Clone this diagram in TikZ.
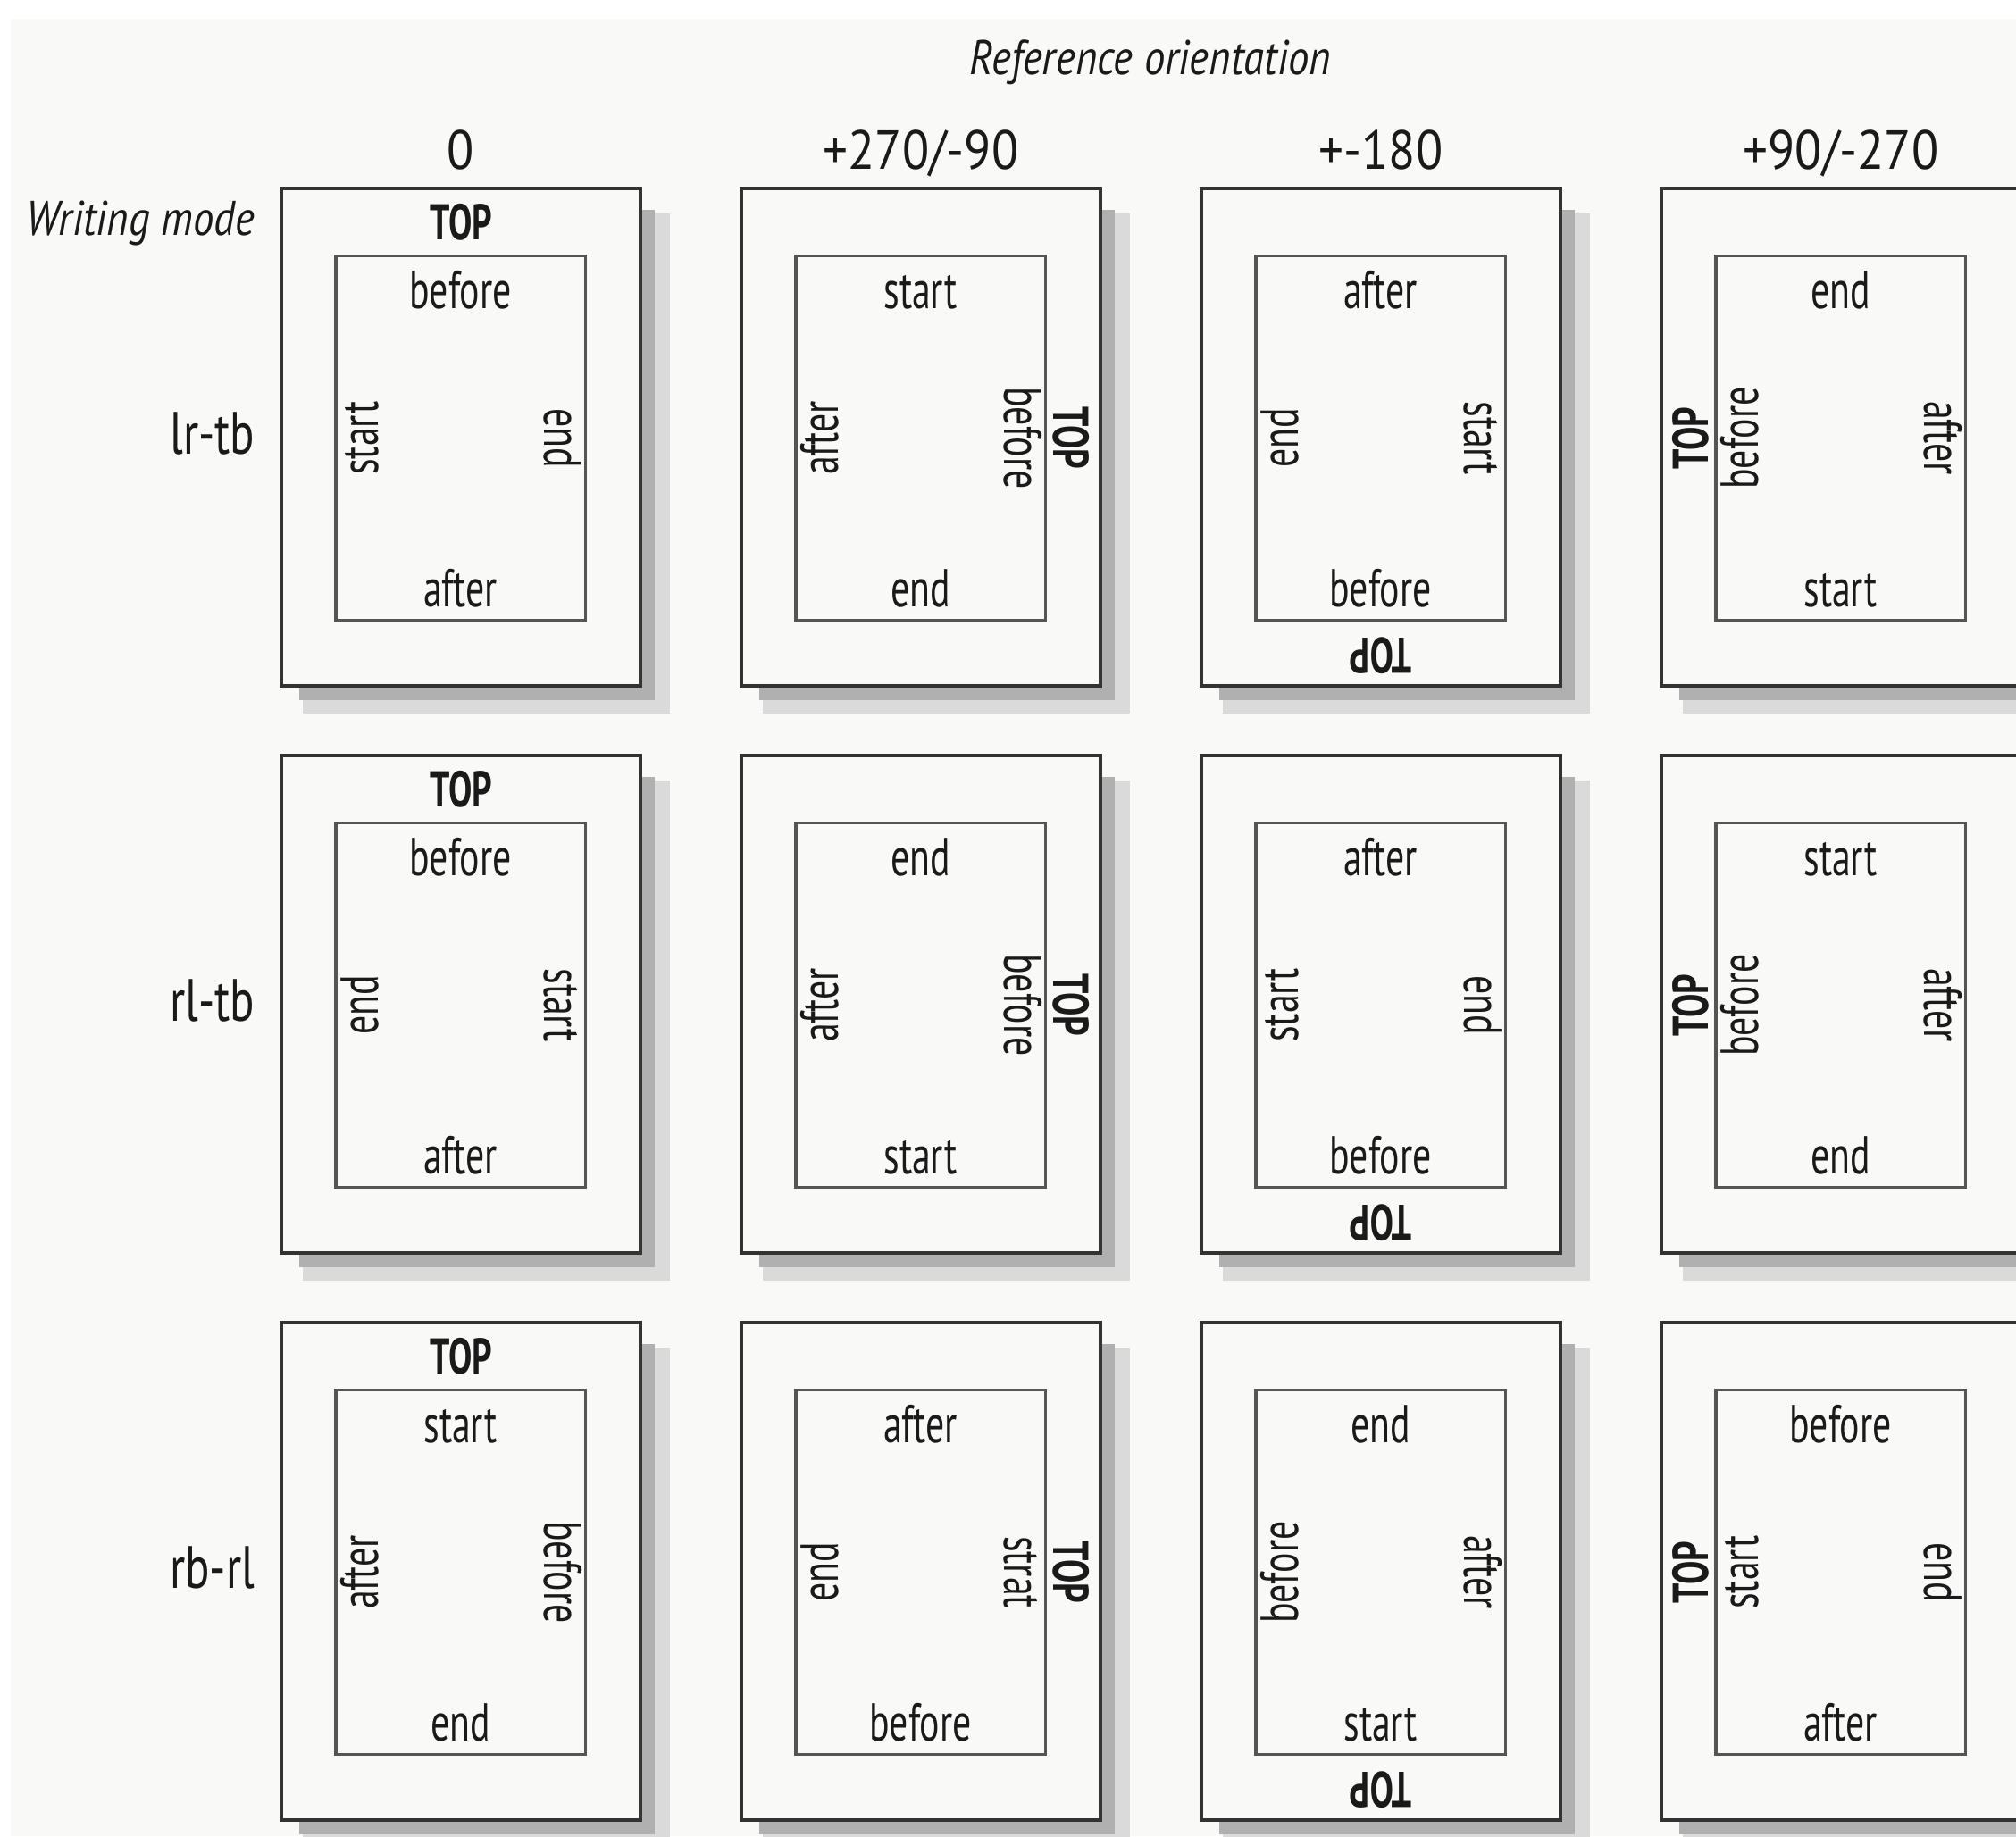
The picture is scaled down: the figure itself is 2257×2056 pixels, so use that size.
\documentclass[tikz,border=0pt]{standalone}
\usepackage{fontspec}
\setmainfont{PT Sans}
\newfontfamily\lbfont{PT Sans}[FakeStretch=0.7]
\newfontfamily\hdfont{PT Sans}[FakeStretch=0.9]
\newfontfamily\rwfont{PT Sans}[FakeStretch=0.76]
\newfontfamily\itfont{PT Sans}[FakeStretch=0.86]
\definecolor{bgc}{HTML}{F9FAF8}
\definecolor{txt}{HTML}{1A1A1A}
\definecolor{boxline}{HTML}{333333}
\definecolor{inline}{HTML}{555555}
\definecolor{shadA}{HTML}{B0B0B0}
\definecolor{shadB}{HTML}{DADADA}
\tikzset{
  outerbox/.style={draw=boxline, line width=1.05pt, fill=bgc, minimum width=4.02cm, minimum height=5.57cm, inner sep=0pt, outer sep=0pt},
  innerbox/.style={draw=inline, line width=0.9pt, minimum width=2.79cm, minimum height=4.07cm, inner sep=0pt, outer sep=0pt},
  lbl/.style={font=\lbfont\fontsize{17}{17}\selectfont, text=txt, inner sep=0pt, text height=0.7em, text depth=0pt},
  toplbl/.style={font=\lbfont\bfseries\fontsize{16}{16}\selectfont, text=txt, inner sep=0pt, text height=0.7em, text depth=0pt},
  hdlbl/.style={font=\hdfont\fontsize{17.5}{17.5}\selectfont, text=txt, inner sep=0pt},
  rowlbl/.style={font=\rwfont\fontsize{19}{19}\selectfont, text=txt, inner sep=0pt},
  itlbl/.style={font=\itfont\itshape\fontsize{15.5}{15.5}\selectfont, text=txt, inner sep=0pt},
}
% #1 name, #2 x, #3 y, #4 TOP position, #5 TOP rotation, #6 top, #7 bottom, #8 left, #9 right
\newcommand\orpanel[9]{%
  \begin{scope}[shift={(#2,#3)}]
    \fill[shadB] (24,28) rectangle (435,588);
    \fill[shadA] (20,24) rectangle (418,573);
    \node[outerbox] (#1) at (201,278.5) {};
    \node[innerbox] (#1i) at (200.5,279.5) {};
    \node[toplbl, rotate=#5] (#1T) at #4 {TOP};
    \node[lbl] (#1t) at (200.5,122) {#6};
    \node[lbl] (#1b) at (200.5,456) {#7};
    \node[lbl, rotate=90] (#1l) at (96,279.5) {#8};
    \node[lbl, rotate=-90] (#1r) at (307,279.5) {#9};
  \end{scope}}
\begin{document}
\begin{tikzpicture}[x=0.01cm, y=-0.01cm]
\useasboundingbox (0,0) rectangle (2257,2056);
\clip (0,0) rectangle (2257,2056);
\fill[white] (0,0) rectangle (2257,2056);
\fill[bgc] (12,21) rectangle (2257,2056);

\node[itlbl, anchor=base] (refor) at (1288,83) {Reference orientation};
\node[itlbl, anchor=base east] (wmode) at (286,263) {Writing mode};

\node[hdlbl, anchor=base] (h0) at (516,189) {0};
\node[hdlbl, anchor=base] (h1) at (1031,189) {+270/-90};
\node[hdlbl, anchor=base] (h2) at (1546,189) {+-180};
\node[hdlbl, anchor=base] (h3) at (2061,189) {+90/-270};

\node[rowlbl, anchor=base east] (r1) at (286,508) {lr-tb};
\node[rowlbl, anchor=base east] (r2) at (286,1143) {rl-tb};
\node[rowlbl, anchor=base east] (r3) at (286,1778) {rb-rl};

% row 1: lr-tb
\orpanel{pa}{315}{211}{(201,45)}{0}{before}{after}{start}{end}
\orpanel{pb}{830}{211}{(362,279.5)}{-90}{start}{end}{after}{before}
\orpanel{pc}{1345}{211}{(201,516)}{180}{after}{before}{end}{start}
\orpanel{pd}{1860}{211}{(40,279.5)}{90}{end}{start}{before}{after}
% row 2: rl-tb
\orpanel{qa}{315}{846}{(201,45)}{0}{before}{after}{end}{start}
\orpanel{qb}{830}{846}{(362,279.5)}{-90}{end}{start}{after}{before}
\orpanel{qc}{1345}{846}{(201,516)}{180}{after}{before}{start}{end}
\orpanel{qd}{1860}{846}{(40,279.5)}{90}{start}{end}{before}{after}
% row 3: rb-rl
\orpanel{ra}{315}{1481}{(201,45)}{0}{start}{end}{after}{before}
\orpanel{rb}{830}{1481}{(362,279.5)}{-90}{after}{before}{end}{strat}
\orpanel{rc}{1345}{1481}{(201,516)}{180}{end}{start}{before}{after}
\orpanel{rd}{1860}{1481}{(40,279.5)}{90}{before}{after}{start}{end}
\end{tikzpicture}
\end{document}
